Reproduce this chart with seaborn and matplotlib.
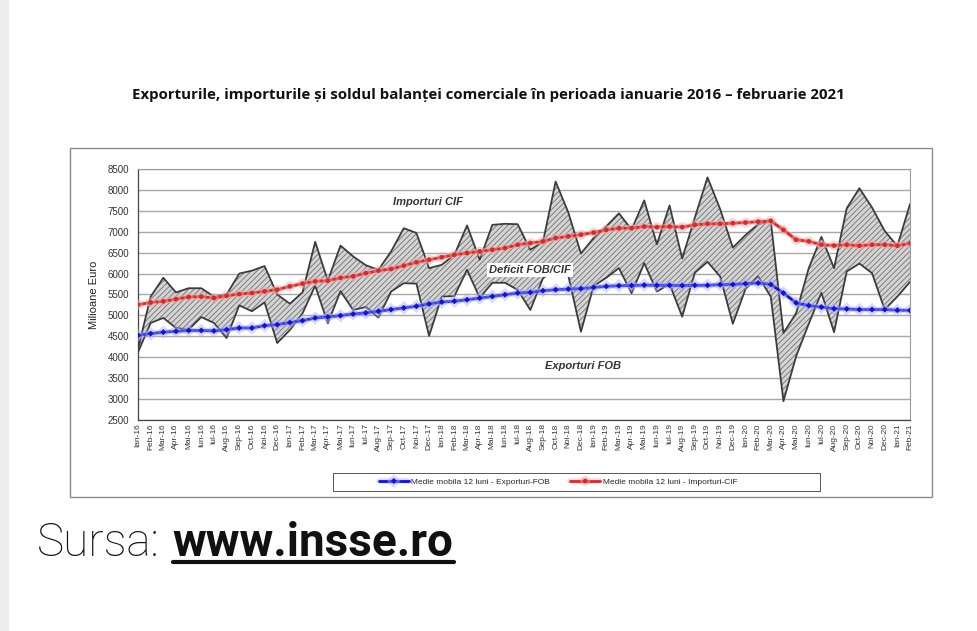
import matplotlib
matplotlib.use("Agg")
import pandas as pd
import matplotlib.pyplot as plt
import matplotlib.patheffects as pe
from matplotlib.lines import Line2D
from matplotlib.patches import Rectangle
import seaborn as sns

# luni ian 2016 - feb 2021
luni = ["Ian", "Feb", "Mar", "Apr", "Mai", "Iun", "Iul", "Aug", "Sep", "Oct", "Noi", "Dec"]
ani = ["16", "17", "18", "19", "20", "21"]
etichete = [f"{l}-{a}" for a in ani for l in luni][:62]

exporturi = [4120, 4820, 4940, 4700, 4660, 4960, 4820, 4460, 5240, 5100, 5310, 4340,
             4650, 5050, 5710, 4810, 5580, 5130, 5200, 4950, 5570, 5770, 5760, 4510,
             5450, 5460, 6090, 5420, 5780, 5780, 5610, 5130, 5890, 6100, 5950, 4610,
             5700, 5900, 6130, 5530, 6250, 5570, 5750, 4970, 6020, 6280, 5930, 4800,
             5630, 5930, 5450, 2950, 4020, 4800, 5540, 4600, 6050, 6240, 6010, 5140,
             5450, 5800]
importuri = [4200, 5450, 5900, 5550, 5650, 5650, 5450, 5500, 6000, 6070, 6180, 5500,
             5280, 5550, 6760, 5830, 6670, 6410, 6200, 6090, 6530, 7085, 6970, 6130,
             6210, 6450, 7150, 6330, 7165, 7190, 7180, 6570, 6760, 8200, 7460, 6480,
             6850, 7130, 7440, 7050, 7750, 6700, 7630, 6360, 7340, 8300, 7540, 6620,
             6920, 7180, 7260, 4580, 5050, 6130, 6880, 6130, 7560, 8040, 7580, 7020,
             6660, 7660]
medie_exp = [4525, 4565, 4600, 4620, 4640, 4640, 4630, 4660, 4700, 4700, 4755, 4780,
             4830, 4875, 4940, 4965, 4995, 5035, 5060, 5100, 5140, 5180, 5220, 5275,
             5320, 5340, 5375, 5415, 5455, 5495, 5535, 5550, 5590, 5615, 5630, 5640,
             5670, 5695, 5710, 5715, 5725, 5720, 5720, 5715, 5720, 5720, 5735, 5740,
             5760, 5775, 5740, 5535, 5300, 5235, 5200, 5160, 5155, 5140, 5140, 5140,
             5125, 5120]
medie_imp = [5255, 5310, 5335, 5390, 5440, 5450, 5415, 5470, 5510, 5535, 5575, 5615,
             5695, 5760, 5815, 5830, 5900, 5935, 6010, 6070, 6110, 6190, 6270, 6330,
             6390, 6450, 6490, 6530, 6570, 6610, 6690, 6730, 6770, 6850, 6890, 6930,
             6980, 7045, 7085, 7085, 7125, 7110, 7125, 7110, 7165, 7190, 7190, 7205,
             7220, 7240, 7260, 7045, 6810, 6770, 6690, 6670, 6690, 6665, 6690, 6690,
             6665, 6725]

df = pd.DataFrame({"luna": range(len(etichete)), "exp": exporturi, "imp": importuri,
                   "mexp": medie_exp, "mimp": medie_imp})

sns.set_style("white")
plt.rcParams["font.family"] = ["Liberation Sans", "DejaVu Sans"]
plt.rcParams["hatch.linewidth"] = 0.6

fig = plt.figure(figsize=(9.77, 6.31), dpi=100)
fig.patch.set_facecolor("white")
# banda gri din stanga paginii
fig.add_artist(Rectangle((0, 0), 9 / 977, 1, transform=fig.transFigure,
                         facecolor="#ececec", edgecolor="none", zorder=-2))
# cadrul graficului
fig.add_artist(Rectangle((70 / 977, 1 - 497 / 631), 862 / 977, 349 / 631,
                         transform=fig.transFigure, facecolor="white",
                         edgecolor="#8a8a8a", linewidth=1.0, zorder=-1))
# cadrul legendei
fig.add_artist(Rectangle((333 / 977, 1 - 491 / 631), 487 / 977, 18 / 631,
                         transform=fig.transFigure, facecolor="white",
                         edgecolor="#555555", linewidth=0.7, zorder=-1))

ax = fig.add_axes([138 / 977, 1 - 420 / 631, 772 / 977, 251 / 631])
ax.set_facecolor("white")

ax.fill_between(df["luna"], df["exp"], df["imp"], facecolor="#d4d4d4",
                edgecolor="#707070", hatch="//////", linewidth=0, zorder=2)
sns.lineplot(data=df, x="luna", y="imp", color="#3c3c3c", linewidth=1.3, ax=ax, zorder=3)
sns.lineplot(data=df, x="luna", y="exp", color="#3c3c3c", linewidth=1.3, ax=ax, zorder=3)

sns.lineplot(data=df, x="luna", y="mexp", color="#1414c4", linewidth=2, marker="D",
             markersize=3, markeredgewidth=0, ax=ax, zorder=5,
             label="Medie mobila 12 luni - Exporturi-FOB",
             path_effects=[pe.withStroke(linewidth=4, foreground="#a8aeff", alpha=0.45)])
sns.lineplot(data=df, x="luna", y="mimp", color="#cc2e2e", linewidth=2, marker="o",
             markersize=3.3, markeredgewidth=0, ax=ax, zorder=5,
             label="Medie mobila 12 luni - Importuri-CIF",
             path_effects=[pe.withStroke(linewidth=4, foreground="#f2a8a8", alpha=0.45)])

ax.set_xlim(0, len(etichete) - 1)
ax.set_ylim(2500, 8500)
ax.set_yticks(range(2500, 8501, 500))
ax.set_xticks(range(len(etichete)))
ax.set_xticklabels(etichete, rotation=90, fontsize=6, color="#333333")
ax.tick_params(axis="y", labelsize=7, colors="#333333", length=3, width=0.6)
ax.tick_params(axis="x", length=3, width=0.6, direction="inout", pad=1)
ax.grid(axis="y", color="#a8a8a8", linewidth=1.0)
ax.set_axisbelow(True)
for s in ["top", "right"]:
    ax.spines[s].set_color("#9a9a9a")
    ax.spines[s].set_linewidth(0.8)
for s in ["left", "bottom"]:
    ax.spines[s].set_color("#444444")
    ax.spines[s].set_linewidth(0.9)
ax.set_xlabel("")
ax.set_ylabel("Milioane Euro", fontsize=8, color="#222222", labelpad=6)

ax.text(22.9, 7720, "Importuri CIF", fontsize=8, fontweight="bold", style="italic",
        color="#333333", ha="center", va="center", zorder=6)
ax.text(31.0, 6080, "Deficit FOB/CIF", fontsize=8, fontweight="bold", style="italic",
        color="#333333", ha="center", va="center", zorder=6,
        bbox=dict(facecolor="white", edgecolor="none", pad=1.5))
ax.text(35.2, 3790, "Exporturi FOB", fontsize=8, fontweight="bold", style="italic",
        color="#333333", ha="center", va="center", zorder=6)

leg = ax.legend(loc="center", bbox_to_anchor=(558 / 977, 1 - 482 / 631),
                bbox_transform=fig.transFigure, ncol=2, fontsize=6, frameon=False,
                handlelength=3.6, handletextpad=0.3, columnspacing=2.4,
                borderpad=0, borderaxespad=0)

fig.text(0.5, 1 - 95 / 631, "Exporturile, importurile și soldul balanței comerciale "
         "în perioada ianuarie 2016 – februarie 2021", ha="center", va="center",
         fontsize=10.8, fontweight="bold", color="#111111",
         family=["Open Sans", "DejaVu Sans"])

t1 = fig.text(37 / 977, 1 - 556 / 631, "Sursa:", fontsize=33, fontweight="light",
              color="#111111", family=["Roboto", "DejaVu Sans"], va="baseline")
r = fig.canvas.get_renderer()
bb = t1.get_window_extent(r)
t2 = fig.text(bb.x1 / 977 + 13 / 977, 1 - 556 / 631, "www.insse.ro", fontsize=33,
              fontweight="bold", color="#111111", family=["Roboto", "DejaVu Sans"],
              va="baseline")
bb2 = t2.get_window_extent(r)
yline = 1 - 562 / 631
fig.add_artist(Line2D([bb2.x0 / 977, bb2.x1 / 977], [yline, yline],
                      transform=fig.transFigure, color="#111111", linewidth=3))

fig.savefig("out.png", dpi=100)
